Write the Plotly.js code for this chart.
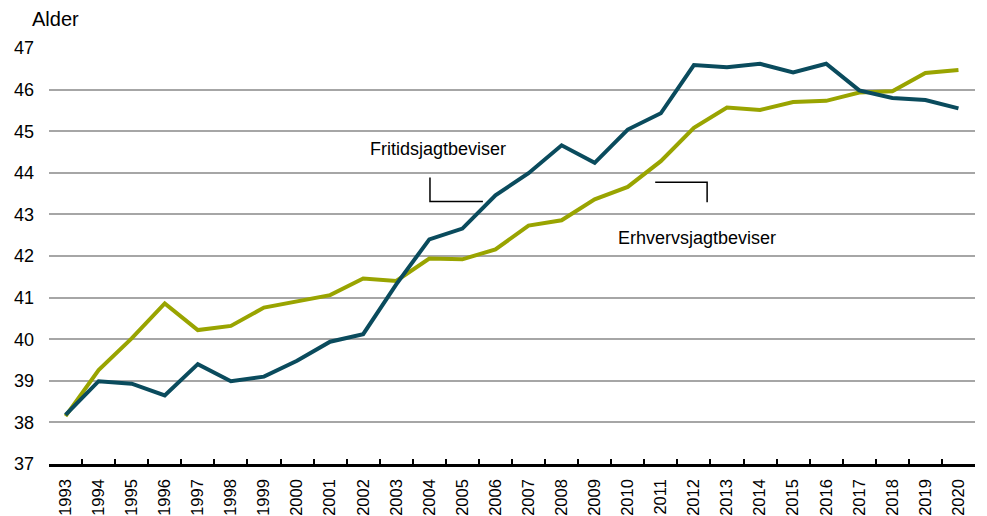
<!DOCTYPE html>
<html>
<head>
<meta charset="utf-8">
<script src="https://cdn.plot.ly/plotly-3.0.1.min.js"></script>
<style>html,body{margin:0;padding:0;background:#fff;}#chart{width:987px;height:516px;}</style>
</head>
<body>
<div id="chart"></div>
<script>
const years = ['1993','1994','1995','1996','1997','1998','1999','2000','2001','2002','2003','2004','2005','2006','2007','2008','2009','2010','2011','2012','2013','2014','2015','2016','2017','2018','2019','2020'];
const fritid = [38.18,38.99,38.93,38.65,39.40,38.99,39.10,39.48,39.94,40.12,41.32,42.40,42.66,43.46,43.99,44.66,44.24,45.04,45.43,46.59,46.54,46.62,46.41,46.62,45.98,45.80,45.75,45.55];
const erhverv = [38.15,39.26,40.02,40.86,40.22,40.32,40.76,40.90,41.06,41.46,41.40,41.94,41.92,42.16,42.73,42.86,43.36,43.66,44.28,45.08,45.57,45.51,45.70,45.73,45.93,45.96,46.40,46.47];
const labelFritid = 'Fritidsjagtbeviser';
const labelErhverv = 'Erhvervsjagtbeviser';
const yTitle = 'Alder';

const font = 'Liberation Sans, Arial, sans-serif';
const data = [
  {x: years, y: erhverv, type: 'scatter', mode: 'lines', name: labelErhverv,
   line: {color: '#99a400', width: 4}},
  {x: years, y: fritid, type: 'scatter', mode: 'lines', name: labelFritid,
   line: {color: '#0a4b5d', width: 4}}
];
const layout = {
  width: 987, height: 516,
  margin: {l: 49, r: 12, t: 48, b: 52},
  paper_bgcolor: '#fff', plot_bgcolor: '#fff',
  showlegend: false,
  font: {family: font, size: 18, color: '#000'},
  xaxis: {
    type: 'category', range: [-0.5, 27.5], tickangle: -90, tickson: 'boundaries',
    ticks: 'inside', ticklen: 5, tickwidth: 2, tickcolor: '#000',
    showline: true, linecolor: '#000', linewidth: 2.5,
    showgrid: false, zeroline: false,
    tickfont: {family: font, size: 16.5, color: '#000'},
    ticklabelstandoff: 6
  },
  yaxis: {
    range: [37, 47], dtick: 1, tick0: 37,
    showgrid: true, gridcolor: '#a6a6a6', gridwidth: 2,
    zeroline: false, showline: false, ticks: '',
    tickfont: {family: font, size: 18, color: '#000'},
    ticklabelstandoff: 14
  },
  annotations: [
    {xref: 'paper', yref: 'paper', x: -0.02, y: 1.0, yshift: 16, xanchor: 'left', yanchor: 'bottom',
     text: yTitle, showarrow: false, font: {family: font, size: 20, color: '#000'}},
    {xref: 'x', yref: 'y', x: 11.25, y: 44.58, text: labelFritid, showarrow: false,
     xanchor: 'center', yanchor: 'middle', font: {family: font, size: 18, color: '#000'}},
    {xref: 'x', yref: 'y', x: 19.1, y: 42.43, text: labelErhverv, showarrow: false,
     xanchor: 'center', yanchor: 'middle', font: {family: font, size: 18, color: '#000'}}
  ],
  shapes: [
    {type: 'path', xref: 'x', yref: 'y', path: 'M 11.02,43.89 L 11.02,43.31 L 12.62,43.31',
     line: {color: '#000', width: 1.5}},
    {type: 'path', xref: 'x', yref: 'y', path: 'M 17.83,43.77 L 19.40,43.77 L 19.40,43.29',
     line: {color: '#000', width: 1.5}}
  ]
};
Plotly.newPlot('chart', data, layout, {displayModeBar: false, staticPlot: true});
</script>
</body>
</html>
